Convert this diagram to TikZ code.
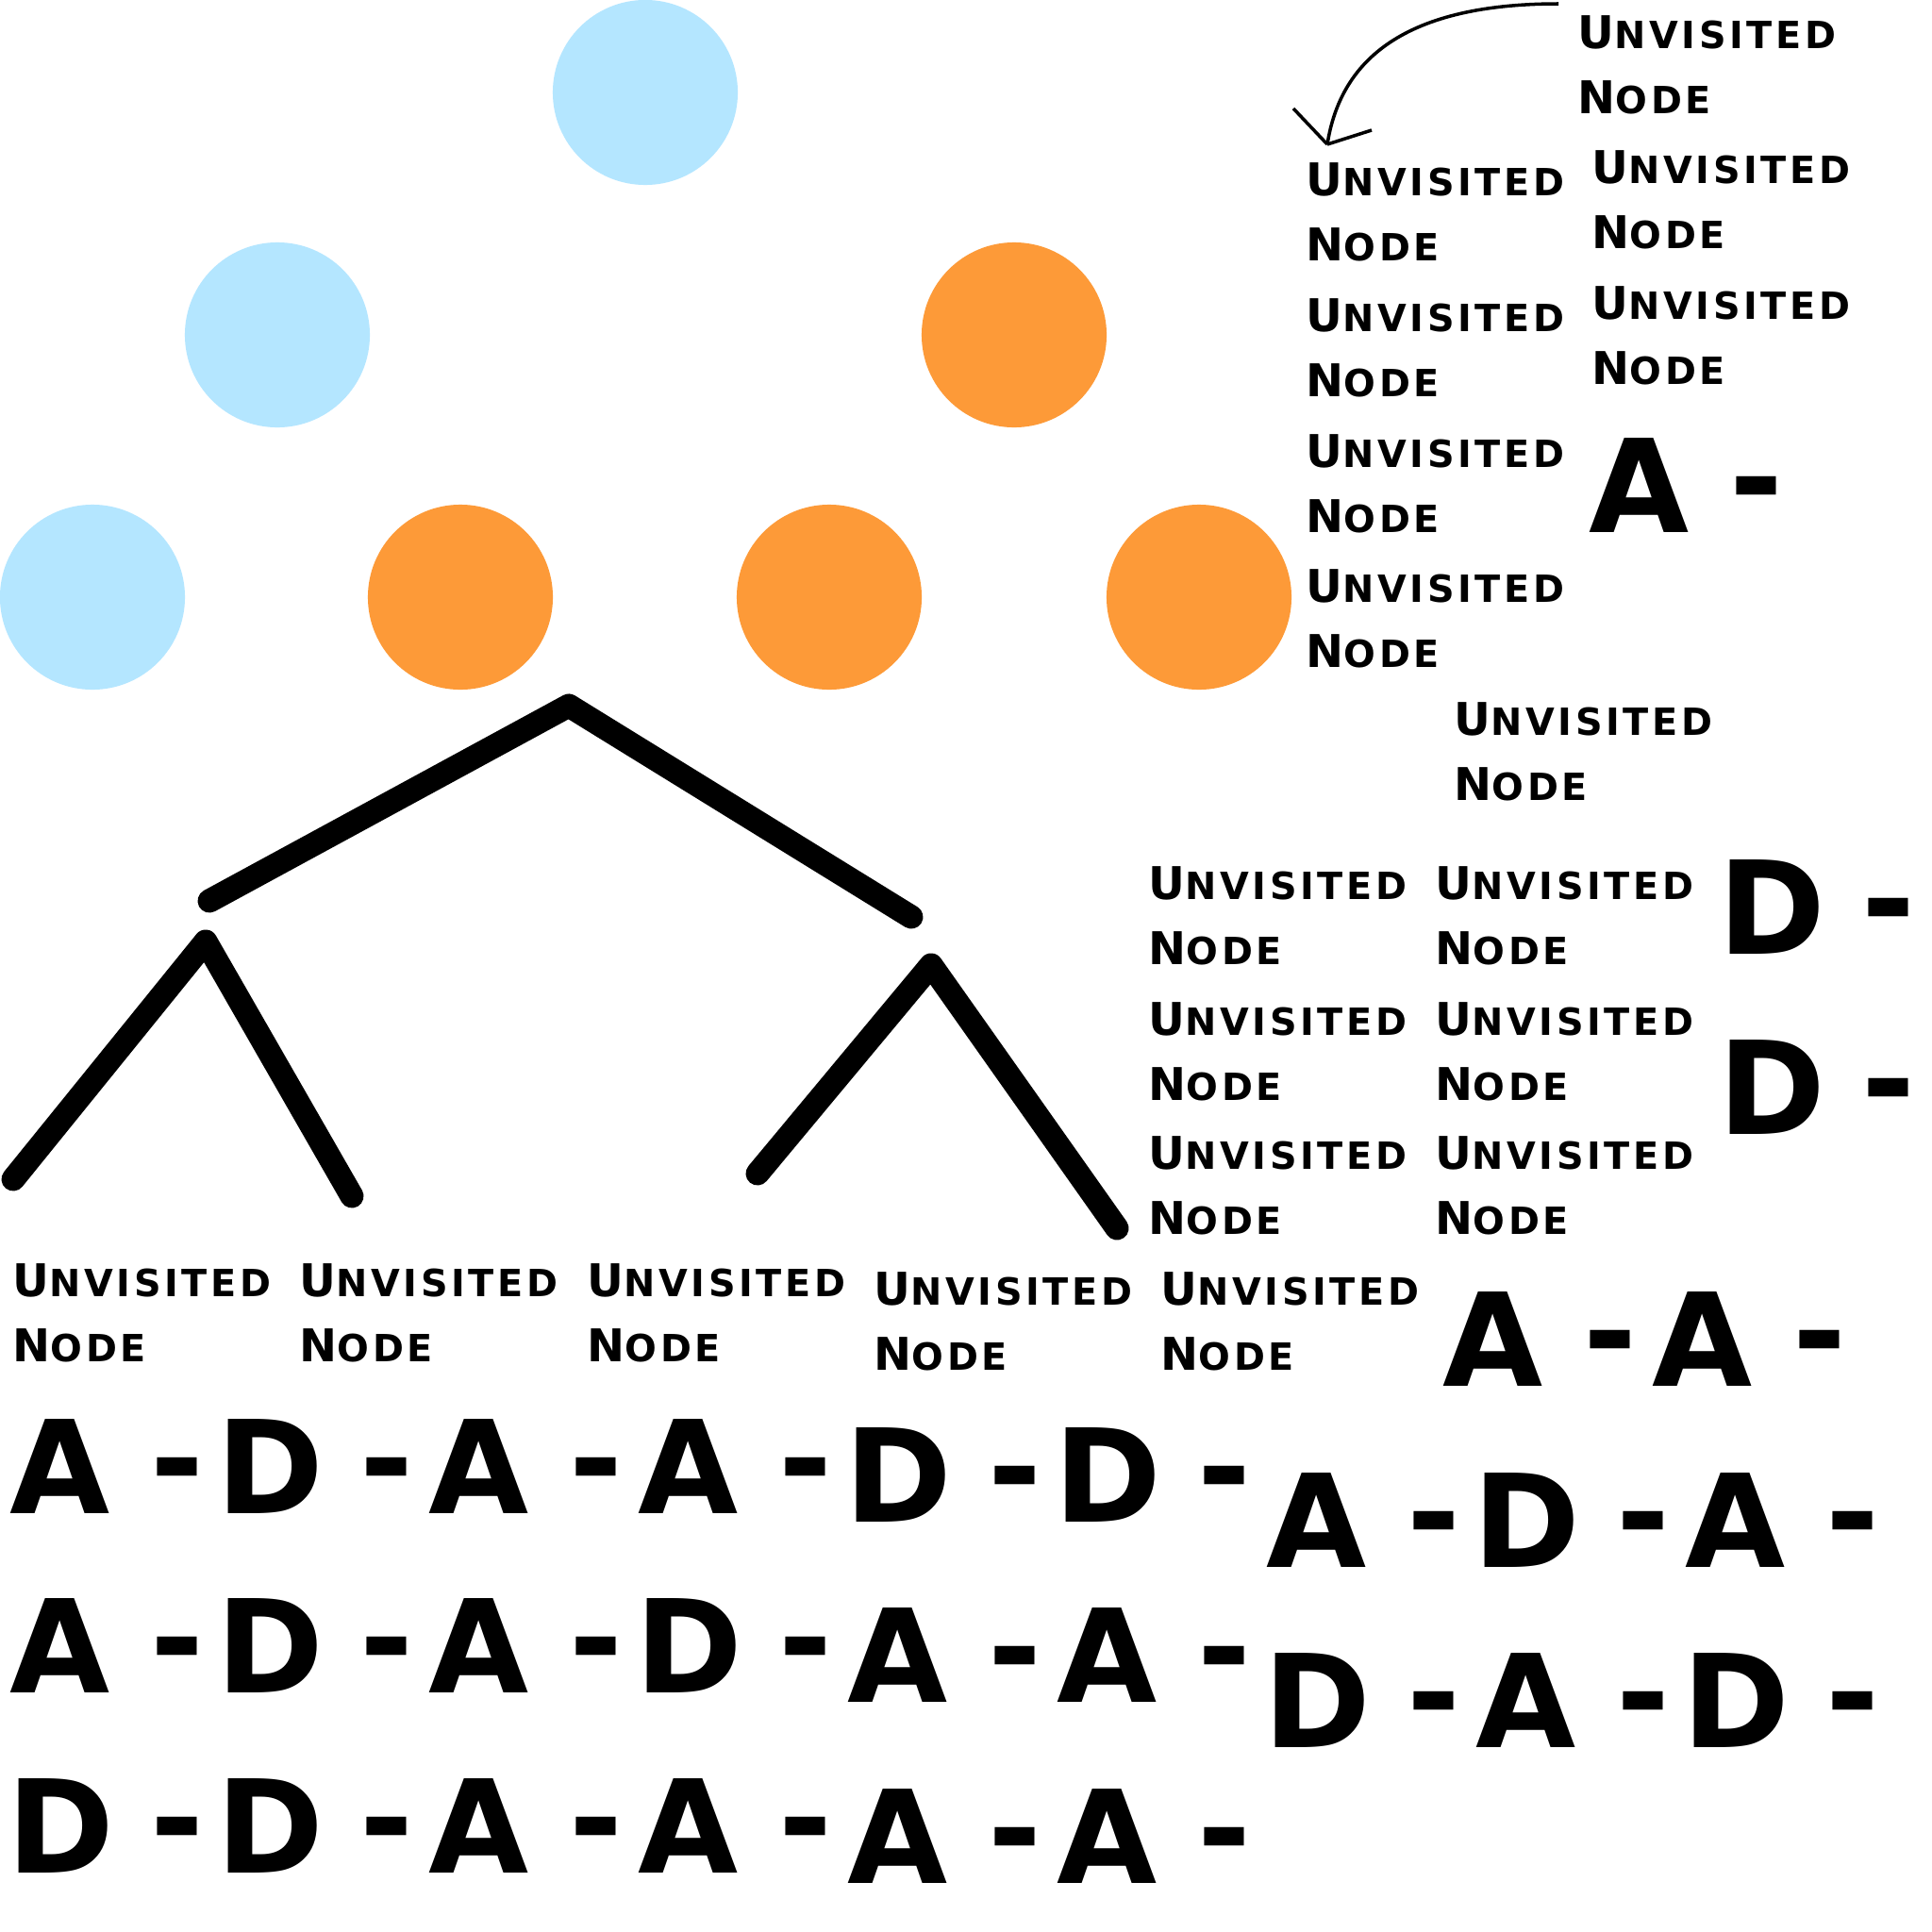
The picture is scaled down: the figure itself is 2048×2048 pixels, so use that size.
\documentclass[tikz,border=0pt]{standalone}
\usepackage{fontspec}
\newfontfamily\labelfont{DejaVu Sans}[LetterSpace=9]
\newfontfamily\bigfont{DejaVu Sans}
\definecolor{visitblue}{RGB}{180,230,255}
\definecolor{frontorange}{RGB}{253,154,56}
% fake small caps: big initial, smaller rest
\newcommand\smc[2]{{\fontsize{13.6pt}{19.6pt}\selectfont #1}{\fontsize{11.3pt}{19.6pt}\selectfont #2}}

\begin{document}
\begin{tikzpicture}[x=0.01cm,y=-0.01cm,
    bluenode/.style={circle,fill=visitblue,minimum size=1.96cm,inner sep=0},
    orangenode/.style={circle,fill=frontorange,minimum size=1.96cm,inner sep=0},
    branch/.style={line width=0.25cm,line cap=round,line join=round},
    unvisited/.style={anchor=north west,inner sep=0,align=left,font=\labelfont\bfseries\fontsize{13.6pt}{19.6pt}\selectfont},
    bigletter/.style={anchor=base,inner sep=0,font=\bigfont\bfseries\fontsize{39pt}{39pt}\selectfont},
    dashmark/.style={anchor=base,inner sep=0,font=\bigfont\bfseries\fontsize{39pt}{39pt}\selectfont}]
  \fill[white] (0,0) rectangle (2048,2048);
  \useasboundingbox (0,0) rectangle (2048,2048);

  % the tree of circles
  \node[bluenode] (root) at (684,98) {};
  \node[bluenode] (left) at (294,355) {};
  \node[orangenode] (right) at (1075,355) {};
  \node[bluenode] (ll) at (98,633) {};
  \node[orangenode] (lr) at (488,633) {};
  \node[orangenode] (rl) at (879,633) {};
  \node[orangenode] (rr) at (1271,633) {};

  % the branches, drawn apart from the circles
  \draw[branch] (222,955) -- (603,748) -- (966,972);
  \draw[branch] (14,1250) -- (218,998) -- (373,1268);
  \draw[branch] (803,1244) -- (987,1023) -- (1184,1302);

  % curved arrow
  \coordinate (arrstart) at (1652,4);
  \coordinate (arrtip) at (1407,153);
  \draw[line width=1pt] (arrstart) .. controls (1480,4) and (1420,70) .. (arrtip);
  \draw[line width=1pt] (arrtip) -- ++(-36,-38);
  \draw[line width=1pt] (arrtip) -- ++(47,-15);

  % labels
  \foreach \x/\y [count=\i] in {1672/16,1384/172,1687/159,1384/316,1687/303,
      1384/460,1384/603,1541/744,1217/918,1521/918,1217/1062,1521/1062,
      1217/1204,1521/1204,13/1339,317/1339,622/1339,926/1348,1230/1348}
    \node[unvisited] (u\i) at (\x,\y) {\smc{U}{NVISITED}\\\smc{N}{ODE}};

  % the A / D sequence
  \foreach \x/\y/\l [count=\i] in {1738/564/A,1878/1011/D,1878/1202/D,1583/1469/A,1805/1469/A,
      64/1604/A,286/1604/D,508/1604/A,730/1604/A,952/1613/D,1174/1613/D,
      1396/1661/A,1618/1661/D,1840/1661/A,
      64/1794/A,286/1794/D,508/1794/A,730/1794/D,952/1804/A,1174/1804/A,
      1396/1852/D,1618/1852/A,1840/1852/D,
      64/1985/D,286/1985/D,508/1985/A,730/1985/A,952/1996/A,1174/1996/A}
  {
    \node[bigletter] (l\i) at (\x,\y) {\l};
    \node[dashmark] (d\i) at (\x+124,\y-10) {-};
  }
\end{tikzpicture}
\end{document}
